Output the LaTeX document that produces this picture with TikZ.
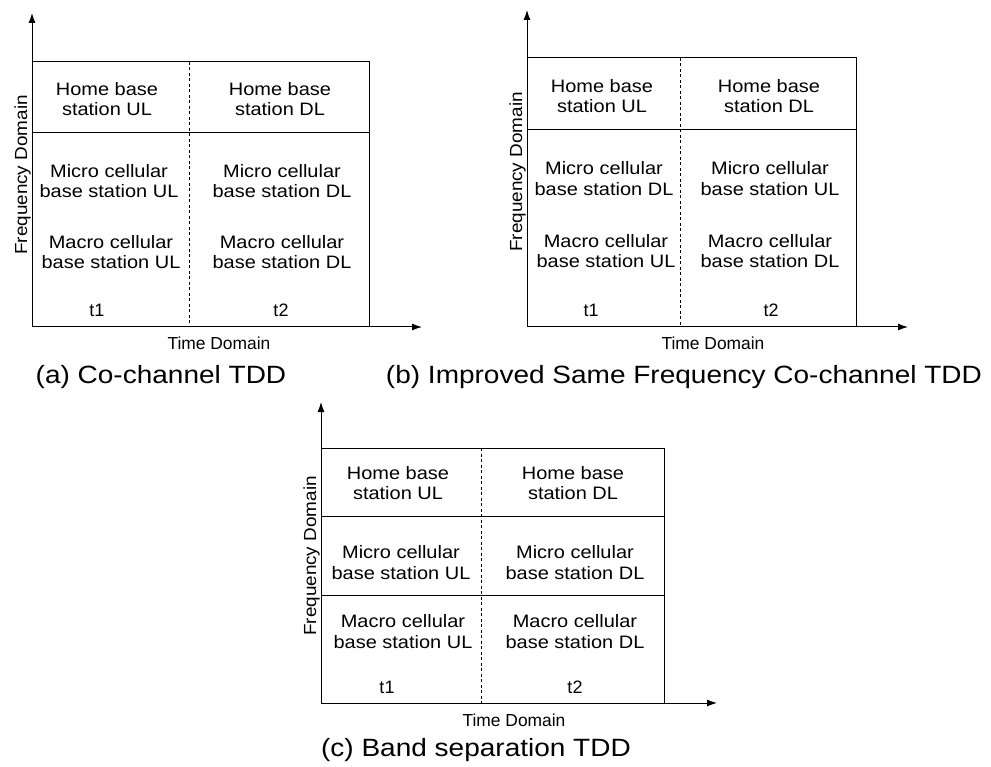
\documentclass[tikz,border=0pt]{standalone}
\usepackage{fontspec}
\newfontfamily\figfont{Liberation Sans}
\newfontfamily\cellfont[FakeStretch=1.11]{Liberation Sans}
\newfontfamily\freqfont[FakeStretch=1.08]{Liberation Sans}
\newfontfamily\capfont[FakeStretch=1.12]{Liberation Sans}
\usetikzlibrary{arrows.meta}
\tikzset{
  cell/.style={align=center, inner sep=0pt, font=\cellfont\fontsize{18}{20.5}\selectfont},
  tlabel/.style={inner sep=0pt, font=\figfont\fontsize{18}{20}\selectfont},
  axlabel/.style={inner sep=0pt, font=\figfont\fontsize{17.4}{20}\selectfont},
  freqlabel/.style={inner sep=0pt, rotate=90, font=\freqfont\fontsize{17.5}{20}\selectfont},
  capt/.style={inner sep=0pt, font=\capfont\fontsize{25}{28}\selectfont},
  axis/.style={line width=1pt, -{Latex[length=10pt,width=7pt]}},
  frame/.style={line width=1pt},
  sep/.style={line width=0.9pt, dash pattern=on 3pt off 2.5pt}
}
\begin{document}
\begin{tikzpicture}[x=1pt,y=-1pt]
\useasboundingbox (0,0) rectangle (991,767);

% ---------------- Panel (a) ----------------
\coordinate (aO) at (32,327);
\coordinate (aY) at (32,13);
\coordinate (aX) at (422,327);
\coordinate (aTL) at (32,62);
\coordinate (aTR) at (369,62);
\coordinate (aBR) at (369,327);
\coordinate (aS1L) at (32,133);
\coordinate (aS1R) at (369,133);
\coordinate (aDT) at (189,62);
\coordinate (aDB) at (189,327);
\draw[frame] (aTL) -- (aTR) -- (aBR);
\draw[frame] (aS1L) -- (aS1R);
\draw[sep] (aDT) -- (aDB);
\draw[axis] (aO) -- (aY);
\draw[axis] (aO) -- (aX);
\node[cell] (ahu) at (107,99) {Home base\\station UL};
\node[cell] (ahd) at (280,99) {Home base\\station DL};
\node[cell] (amu) at (109,181) {Micro cellular\\base station UL};
\node[cell] (amd) at (282,181) {Micro cellular\\base station DL};
\node[cell] (aMu) at (111,252) {Macro cellular\\base station UL};
\node[cell] (aMd) at (282,252) {Macro cellular\\base station DL};
\node[tlabel] (at1) at (97,310) {t1};
\node[tlabel] (at2) at (281,310) {t2};
\node[axlabel] (atime) at (219,343) {Time Domain};
\node[freqlabel] (afreq) at (22.5,175) {Frequency Domain};
\node[capt] (acap) at (161,377) {(a) Co-channel TDD};

% ---------------- Panel (b) ----------------
\coordinate (bO) at (527,327);
\coordinate (bY) at (527,10);
\coordinate (bX) at (908,327);
\coordinate (bTL) at (527,58);
\coordinate (bTR) at (856,58);
\coordinate (bBR) at (856,327);
\coordinate (bS1L) at (527,130);
\coordinate (bS1R) at (856,130);
\coordinate (bDT) at (680,58);
\coordinate (bDB) at (680,327);
\draw[frame] (bTL) -- (bTR) -- (bBR);
\draw[frame] (bS1L) -- (bS1R);
\draw[sep] (bDT) -- (bDB);
\draw[axis] (bO) -- (bY);
\draw[axis] (bO) -- (bX);
\node[cell] (bhu) at (602,96) {Home base\\station UL};
\node[cell] (bhd) at (769,96) {Home base\\station DL};
\node[cell] (bmu) at (604,178.5) {Micro cellular\\base station DL};
\node[cell] (bmd) at (770,178.5) {Micro cellular\\base station UL};
\node[cell] (bMu) at (606,251) {Macro cellular\\base station UL};
\node[cell] (bMd) at (770,251) {Macro cellular\\base station DL};
\node[tlabel] (bt1) at (591,310) {t1};
\node[tlabel] (bt2) at (771,310) {t2};
\node[axlabel] (btime) at (713,343) {Time Domain};
\node[freqlabel] (bfreq) at (517.5,172) {Frequency Domain};
\node[capt] (bcap) at (684,377) {(b) Improved Same Frequency Co-channel TDD};

% ---------------- Panel (c) ----------------
\coordinate (cO) at (321,703);
\coordinate (cY) at (321,402);
\coordinate (cX) at (717,703);
\coordinate (cTL) at (321,448);
\coordinate (cTR) at (664,448);
\coordinate (cBR) at (664,703);
\coordinate (cS1L) at (321,516);
\coordinate (cS1R) at (664,516);
\coordinate (cS2L) at (321,595);
\coordinate (cS2R) at (664,595);
\coordinate (cDT) at (481,448);
\coordinate (cDB) at (481,703);
\draw[frame] (cTL) -- (cTR) -- (cBR);
\draw[frame] (cS1L) -- (cS1R);
\draw[frame] (cS2L) -- (cS2R);
\draw[sep] (cDT) -- (cDB);
\draw[axis] (cO) -- (cY);
\draw[axis] (cO) -- (cX);
\node[cell] (chu) at (398,483) {Home base\\station UL};
\node[cell] (chd) at (573,483) {Home base\\station DL};
\node[cell] (cmu) at (401,562.5) {Micro cellular\\base station UL};
\node[cell] (cmd) at (575,562.5) {Micro cellular\\base station DL};
\node[cell] (cMu) at (403,631.5) {Macro cellular\\base station UL};
\node[cell] (cMd) at (575,631.5) {Macro cellular\\base station DL};
\node[tlabel] (ct1) at (387,687) {t1};
\node[tlabel] (ct2) at (575,687) {t2};
\node[axlabel] (ctime) at (514,720) {Time Domain};
\node[freqlabel] (cfreq) at (311.5,556) {Frequency Domain};
\node[capt] (ccap) at (476,750) {(c) Band separation TDD};
\end{tikzpicture}
\end{document}
